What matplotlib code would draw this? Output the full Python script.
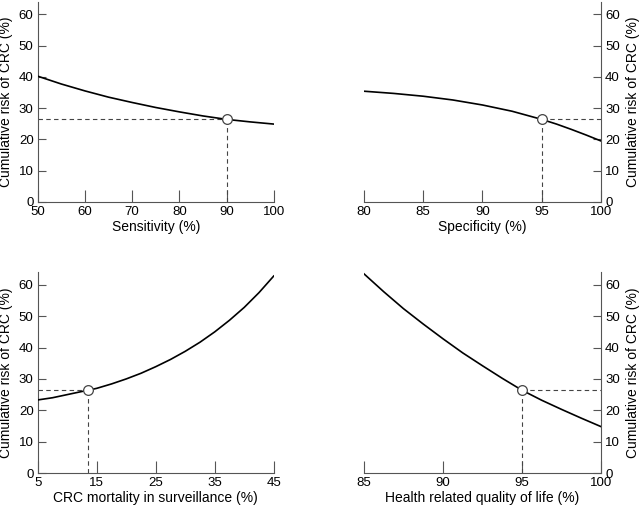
import numpy as np
import matplotlib.pyplot as plt

plt.rcParams['font.family'] = ['Liberation Sans', 'DejaVu Sans']

# values
sens_x = [50, 55, 60, 65, 70, 75, 80, 85, 90, 95, 100]
sens_y = [40.2, 37.7, 35.5, 33.5, 31.8, 30.2, 28.8, 27.5, 26.4, 25.6, 24.9]
spec_x = [80, 82.5, 85, 87.5, 90, 92.5, 95, 96.25, 97.5, 98.75, 100]
spec_y = [35.4, 34.7, 33.8, 32.6, 31.0, 29.0, 26.4, 24.9, 23.2, 21.4, 19.5]
mort_x = [5, 7.5, 10, 12.5, 13.6, 15, 17.5, 20, 22.5, 25, 27.5, 30, 32.5, 35, 37.5, 40, 42.5, 45]
mort_y = [23.3, 24.0, 25.0, 26.0, 26.4, 27.0, 28.4, 30.0, 31.8, 33.9, 36.2, 38.8, 41.7,
          45.0, 48.7, 52.8, 57.5, 62.8]
hrql_x = [85, 86.25, 87.5, 88.75, 90, 91.25, 92.5, 93.75, 95, 96.25, 97.5, 98.75, 100]
hrql_y = [63.5, 57.8, 52.4, 47.5, 42.8, 38.3, 34.2, 30.2, 26.4, 23.2, 20.3, 17.5, 14.8]

base_risk = 26.4
sens_base, spec_base, mort_base, hrql_base = 90, 95, 13.6, 95

panels = [
    dict(rect=[0.059, 0.6016, 0.3687, 0.395], x=sens_x, y=sens_y, base=sens_base,
         xlim=(50, 100), xticks=[50, 60, 70, 80, 90, 100], xlabel="Sensitivity (%)", side='left'),
    dict(rect=[0.5687, 0.6016, 0.3703, 0.395], x=spec_x, y=spec_y, base=spec_base,
         xlim=(80, 100), xticks=[80, 85, 90, 95, 100], xlabel="Specificity (%)", side='right'),
    dict(rect=[0.059, 0.067, 0.3687, 0.396], x=mort_x, y=mort_y, base=mort_base,
         xlim=(5, 45), xticks=[5, 15, 25, 35, 45], xlabel="CRC mortality in surveillance (%)", side='left'),
    dict(rect=[0.5687, 0.067, 0.3703, 0.396], x=hrql_x, y=hrql_y, base=hrql_base,
         xlim=(85, 100), xticks=[85, 90, 95, 100], xlabel="Health related quality of life (%)", side='right'),
]

fig = plt.figure(figsize=(6.4, 5.07), dpi=100)
spine_col = '#555555'
for p in panels:
    ax = fig.add_axes(p['rect'])
    ax.set_facecolor('none')
    ax.plot(p['x'], p['y'], color='black', lw=1.2, zorder=3)
    x0, x1 = p['xlim']
    # dashed guide lines to the base case
    if p['side'] == 'left':
        ax.plot([x0, p['base']], [base_risk, base_risk], ls=(0, (4, 3)), color='#444444', lw=0.8)
    else:
        ax.plot([p['base'], x1], [base_risk, base_risk], ls=(0, (4, 3)), color='#444444', lw=0.8)
    ax.plot([p['base'], p['base']], [0, base_risk], ls=(0, (4, 3)), color='#444444', lw=0.8)
    ax.plot([p['base']], [base_risk], 'o', ms=7, mfc='white', mec='#444444', mew=0.9, zorder=4)

    ax.set_xlim(x0, x1)
    ax.set_ylim(0, 64)
    ax.set_xticks(p['xticks'])
    ax.set_yticks(range(0, 61, 10))
    ax.set_xlabel(p['xlabel'], fontsize=10, labelpad=1)
    ax.set_ylabel("Cumulative risk of CRC (%)", fontsize=10)
    for s in ['top', 'right', 'left', 'bottom']:
        ax.spines[s].set_visible(False)
    ax.spines['bottom'].set_visible(True)
    ax.spines['bottom'].set_color(spine_col)
    if p['side'] == 'left':
        ax.spines['left'].set_visible(True)
        ax.spines['left'].set_color(spine_col)
    else:
        ax.spines['right'].set_visible(True)
        ax.spines['right'].set_color(spine_col)
        ax.yaxis.tick_right()
        ax.yaxis.set_label_position('right')
    ax.tick_params(axis='x', direction='in', length=9, color=spine_col, labelsize=9.5, pad=3)
    ax.tick_params(axis='y', direction='in', length=6, color=spine_col, labelsize=9.5, pad=3)
    ax.tick_params(axis='y', left=(p['side'] == 'left'), right=(p['side'] == 'right'))

fig.savefig("out.png", dpi=100)
